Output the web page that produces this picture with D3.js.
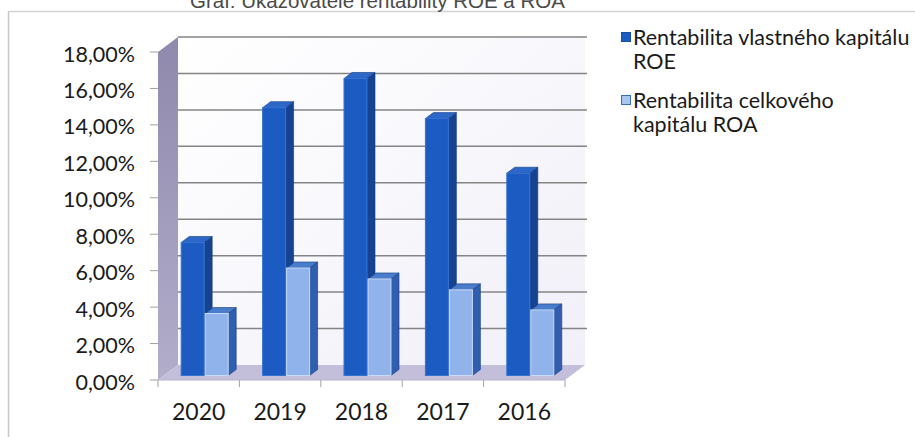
<!DOCTYPE html>
<html>
<head>
<meta charset="utf-8">
<script src="https://cdn.jsdelivr.net/npm/d3@7"></script>
<style>
  html, body { margin: 0; padding: 0; background: #ffffff; }
  svg { display: block; }
</style>
</head>
<body>
<svg id="chart" width="915" height="437"></svg>
<script>
// Years shown on the category axis
const categories = ["2020", "2019", "2018", "2017", "2016"];
// Return on equity (ROE), %
const roeValues = [7.3, 14.7, 16.3, 14.1, 11.1];
// Return on assets (ROA), %
const roaValues = [3.4, 5.9, 5.3, 4.7, 3.6];
// Value axis ticks, %
const yTicks = [0, 2, 4, 6, 8, 10, 12, 14, 16, 18];
const seriesNames = [
  ["Rentabilita vlastného kapitálu", "ROE"],
  ["Rentabilita celkového", "kapitálu ROA"]
];
const titleText = "Graf: Ukazovatele rentability ROE a ROA";

(function draw() {
  const svg = d3.select("#chart");

  // Front plane of the 3-D box
  const boxLeft = 158, boxRight = 565, boxBase = 380, boxTop = 52;
  // Offset from the front plane to the back wall
  const DX = 20, DY = -15;

  const x = d3.scaleBand().domain(categories).range([boxLeft, boxRight]);
  const y = d3.scaleLinear().domain([0, 18]).range([boxBase, boxTop]);
  const fmt = v => d3.format(".2f")(v).replace(".", ",") + "%";

  const defs = svg.append("defs");
  const wallGrad = defs.append("linearGradient").attr("id", "wallGrad")
    .attr("x1", 0).attr("y1", 0).attr("x2", 1).attr("y2", 1);
  wallGrad.append("stop").attr("offset", 0).attr("stop-color", "#ffffff");
  wallGrad.append("stop").attr("offset", 1).attr("stop-color", "#f1eff8");
  const sideGrad = defs.append("linearGradient").attr("id", "sideGrad")
    .attr("x1", 0).attr("y1", 0).attr("x2", 0).attr("y2", 1);
  sideGrad.append("stop").attr("offset", 0).attr("stop-color", "#8f8aad");
  sideGrad.append("stop").attr("offset", 1).attr("stop-color", "#b2adca");

  // Outer chart frame
  svg.append("line").attr("x1", 8.5).attr("x2", 8.5).attr("y1", 11).attr("y2", 437)
    .attr("stroke", "#c8c8c8").attr("stroke-width", 1.5);
  svg.append("line").attr("x1", 8).attr("x2", 915).attr("y1", 11.5).attr("y2", 11.5)
    .attr("stroke", "#d4d4d4").attr("stroke-width", 1.5);

  // Title (runs off the top edge)
  svg.append("text").attr("x", 190).attr("y", 8)
    .attr("font-family", "Liberation Sans, Arial, sans-serif").attr("font-size", 20.5)
    .attr("fill", "#4a4a4a").text(titleText);

  // Back wall
  svg.append("rect").attr("x", boxLeft + DX).attr("y", boxTop + DY)
    .attr("width", boxRight - boxLeft).attr("height", boxBase - boxTop)
    .attr("fill", "url(#wallGrad)");

  // Side wall
  const pts = a => a.map(p => p.join(",")).join(" ");
  svg.append("polygon")
    .attr("points", pts([[boxLeft, boxTop], [boxLeft + DX, boxTop + DY], [boxLeft + DX, boxBase + DY], [boxLeft, boxBase]]))
    .attr("fill", "url(#sideGrad)");

  // Floor
  svg.append("polygon")
    .attr("points", pts([[boxLeft, boxBase], [boxLeft + DX, boxBase + DY], [boxRight + DX, boxBase + DY], [boxRight, boxBase]]))
    .attr("fill", "#c3bed9");

  // Gridlines on the back wall
  svg.append("g").selectAll("line").data(yTicks.filter(t => t > 0)).join("line")
    .attr("x1", boxLeft + DX).attr("x2", boxRight + DX + 2)
    .attr("y1", d => y(d) + DY).attr("y2", d => y(d) + DY)
    .attr("stroke", "#858585").attr("stroke-width", 1.5);

  // Value axis ticks and labels
  const yAxis = svg.append("g");
  yAxis.selectAll("line").data(yTicks).join("line")
    .attr("x1", boxLeft - 8).attr("x2", boxLeft)
    .attr("y1", d => y(d)).attr("y2", d => y(d))
    .attr("stroke", "#a0a0a0").attr("stroke-width", 1);
  yAxis.selectAll("text").data(yTicks).join("text")
    .attr("x", 135).attr("y", d => y(d) + 2).attr("dy", "0.35em")
    .attr("text-anchor", "end")
    .attr("font-family", "Lato, sans-serif").attr("font-size", 21.5)
    .attr("fill", "#1a1a1a").text(fmt);

  // Category axis ticks and labels
  const bounds = categories.map(c => x(c)).concat([boxRight]);
  svg.append("g").selectAll("line").data(bounds).join("line")
    .attr("x1", d => d).attr("x2", d => d).attr("y1", boxBase).attr("y2", boxBase + 7)
    .attr("stroke", "#a0a0a0").attr("stroke-width", 1);
  svg.append("line").attr("x1", boxLeft).attr("x2", boxRight).attr("y1", boxBase).attr("y2", boxBase)
    .attr("stroke", "#b8b4cc").attr("stroke-width", 1);
  svg.append("g").selectAll("text").data(categories).join("text")
    .attr("x", d => x(d) + x.bandwidth() / 2).attr("y", 420)
    .attr("text-anchor", "middle")
    .attr("font-family", "Lato, sans-serif").attr("font-size", 23)
    .attr("fill", "#1a1a1a").text(d => d);

  // 3-D columns: front face sits 30% into the box, depth 40%
  const d0 = 0.3, d1 = 0.7;
  const barW = 23, barGap = 1;
  const series = [
    { values: roeValues, front: "#1c5cc2", side: "#154392", topc: "#2d67c8", edge: "#3672d0", offset: -(barW + barGap / 2) },
    { values: roaValues, front: "#8fb3ea", side: "#2f5fae", topc: "#4a7ccc", edge: "#c9dbf6", offset: barGap / 2 }
  ];
  const bars = svg.append("g");
  categories.forEach((c, i) => {
    const cx = x(c) + x.bandwidth() / 2;
    series.forEach(s => {
      const v = s.values[i];
      const fx = cx + s.offset + DX * d0;
      const fy0 = y(0) + DY * d0;
      const fy1 = y(v) + DY * d0;
      const ddx = DX * (d1 - d0), ddy = DY * (d1 - d0);
      const g = bars.append("g");
      g.append("polygon")
        .attr("points", pts([[fx + barW, fy1], [fx + barW + ddx, fy1 + ddy], [fx + barW + ddx, fy0 + ddy], [fx + barW, fy0]]))
        .attr("fill", s.side).attr("stroke", "#123a7e").attr("stroke-width", 0.6);
      g.append("polygon")
        .attr("points", pts([[fx, fy1], [fx + ddx, fy1 + ddy], [fx + barW + ddx, fy1 + ddy], [fx + barW, fy1]]))
        .attr("fill", s.topc).attr("stroke", "#123a7e").attr("stroke-width", 0.6);
      g.append("rect").attr("x", fx).attr("y", fy1).attr("width", barW).attr("height", fy0 - fy1)
        .attr("fill", s.front).attr("stroke", s.edge).attr("stroke-width", 1);
    });
  });

  // Legend
  const legend = svg.append("g");
  const legendRows = [
    { y: 37, fill: "#1c5cc2", stroke: "#1a4f9e", lines: seriesNames[0] },
    { y: 100, fill: "#a9c4ef", stroke: "#3d6dbb", lines: seriesNames[1] }
  ];
  legendRows.forEach(r => {
    legend.append("rect").attr("x", 621.5).attr("y", r.y - 4.5).attr("width", 9).attr("height", 9)
      .attr("fill", r.fill).attr("stroke", r.stroke).attr("stroke-width", 1);
    r.lines.forEach((t, k) => {
      legend.append("text").attr("x", 633).attr("y", r.y + k * 24).attr("dy", "0.35em")
        .attr("font-family", "Lato, sans-serif").attr("font-size", 21.5)
        .attr("fill", "#1a1a1a").text(t);
    });
  });
})();
</script>
</body>
</html>
